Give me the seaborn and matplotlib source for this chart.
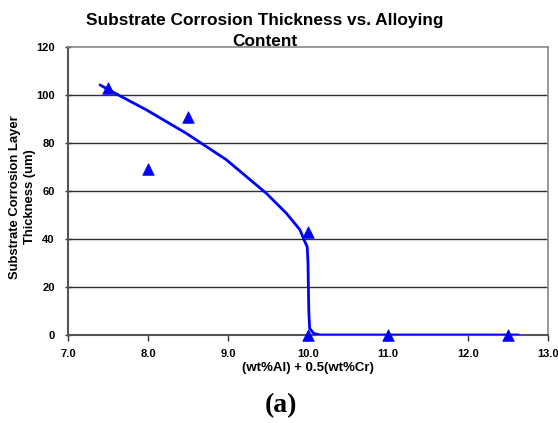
import matplotlib
matplotlib.use("Agg")
import matplotlib.pyplot as plt
import seaborn as sns
import pandas as pd

# Data
point_x = [7.5, 8.0, 8.5, 10.0, 10.0, 11.0, 12.5]
point_y = [103, 69, 91, 43, 0, 0, 0]
curve_x = [7.40, 7.50, 7.98, 8.48, 8.98, 9.48, 9.73, 9.90, 9.96, 9.99, 10.00, 10.01, 10.02, 10.07, 10.15, 12.63]
curve_y = [104.2, 102.3, 93.8, 84.0, 73.0, 59.0, 50.7, 43.8, 38.9, 36.8, 30.0, 10.0, 2.8, 0.7, 0.0, 0.0]
x_ticks = [7.0, 8.0, 9.0, 10.0, 11.0, 12.0, 13.0]
y_ticks = [0, 20, 40, 60, 80, 100, 120]

sns.set_theme(style="white")
plt.rcParams['font.family'] = ['Liberation Sans', 'DejaVu Sans']
plt.rcParams['text.color'] = 'black'
plt.rcParams['axes.labelcolor'] = 'black'
plt.rcParams['xtick.labelcolor'] = 'black'
plt.rcParams['ytick.labelcolor'] = 'black'

fig = plt.figure(figsize=(5.58, 4.23), dpi=100)
ax = fig.add_axes([68/558, 1-335/423, (548-68)/558, (335-47)/423])

df_curve = pd.DataFrame({"x": curve_x, "y": curve_y})
df_pts = pd.DataFrame({"x": point_x, "y": point_y})

for yv in y_ticks[1:-1]:
    ax.axhline(yv, color="#303030", lw=1.0, zorder=1)

sns.lineplot(data=df_curve, x="x", y="y", sort=False, estimator=None,
             color="#0000FF", lw=2.0, ax=ax, zorder=3)
sns.scatterplot(data=df_pts, x="x", y="y", marker="^", s=70, color="#0000FF",
                edgecolor="#0000FF", linewidth=0.5, ax=ax, zorder=4, clip_on=False)

ax.set_xlim(7.0, 13.0)
ax.set_ylim(0, 120)
ax.set_xticks(x_ticks)
ax.set_yticks(y_ticks)
ax.set_xticklabels([f"{v:.1f}" for v in x_ticks], fontsize=8, fontweight="bold")
ax.set_yticklabels([str(v) for v in y_ticks], fontsize=8, fontweight="bold")
ax.tick_params(axis="x", direction="out", length=4, width=1, color="#333333", pad=6, bottom=True)
ax.tick_params(axis="y", direction="inout", length=5, width=1, color="#333333", pad=7, left=True)

for side in ["left", "bottom"]:
    ax.spines[side].set_color("#555555")
    ax.spines[side].set_linewidth(1.5)
for side in ["top", "right"]:
    ax.spines[side].set_color("#888888")
    ax.spines[side].set_linewidth(1.2)

ax.set_xlabel("(wt%Al) + 0.5(wt%Cr)", fontsize=9.5, fontweight="bold", labelpad=2)
ax.set_ylabel("Substrate Corrosion Layer\nThickness (um)", fontsize=9.4, fontweight="bold",
              linespacing=1.35)
ax.yaxis.set_label_coords((36 - 68) / 480, (335 - 197) / 288)

fig.text(265/558, 1-31/423, "Substrate Corrosion Thickness vs. Alloying\nContent",
         ha="center", va="center", fontsize=12.4, fontweight="bold", linespacing=1.42)
fig.text(281/558, 1-406/423, "(a)", ha="center", va="center", fontsize=20,
         fontweight="bold", family=["Liberation Serif", "DejaVu Serif"])

fig.savefig("out.png", dpi=100)
